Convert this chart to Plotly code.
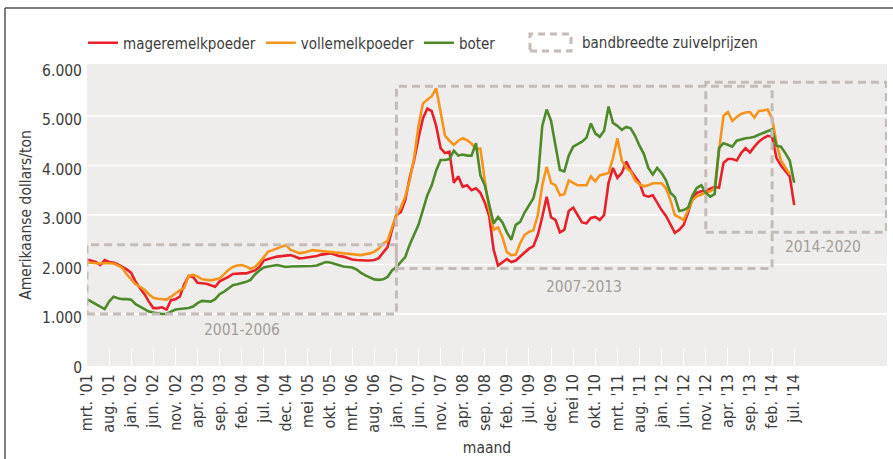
import plotly.graph_objects as go

# ---------------- data ----------------
# month index 0 = maart 2001 ... 160 = juli 2014
SERIES_NAMES = ["mageremelkpoeder", "vollemelkpoeder", "boter"]

MAGEREMELKPOEDER = [
    2100, 2080, 2050, 1990, 2090, 2050, 2040, 2000, 1955, 1900,
    1830, 1650, 1520, 1400, 1250, 1120, 1120, 1135, 1090, 1280,
    1300, 1350, 1600, 1770, 1750, 1630, 1620, 1610, 1580, 1550,
    1660, 1700, 1750, 1810, 1820, 1820, 1820, 1850, 1880, 1950,
    2080, 2110, 2140, 2160, 2170, 2180, 2190, 2160, 2125, 2130,
    2140, 2145, 2170, 2200, 2220, 2225, 2200, 2170, 2160, 2130,
    2100, 2090, 2080, 2080, 2080, 2090, 2130, 2250, 2350, 2700,
    3000, 3060, 3300, 3750, 4100, 4550, 4950, 5150, 5100, 4800,
    4350, 4250, 4280, 3650, 3780, 3570, 3600, 3500, 3540, 3450,
    3250, 2980, 2300, 1980, 2050, 2110, 2050, 2080, 2160, 2250,
    2320, 2370, 2600, 2960, 3370, 2950, 2900, 2650, 2700, 3080,
    3150, 3000, 2850, 2830, 2940, 2960, 2900, 3000, 3650, 3950,
    3750, 3850, 4080, 3900, 3780, 3650, 3400, 3370, 3400, 3250,
    3100, 2980, 2800, 2640, 2700, 2800, 3050, 3350, 3450, 3480,
    3490, 3530, 3570, 3550, 4050, 4130, 4130, 4100, 4250, 4350,
    4260, 4380, 4480, 4550, 4600, 4580, 4150, 4000, 3900, 3780,
    3200,
]

VOLLEMELKPOEDER = [
    2040, 2030, 2020, 2020, 2030, 2030, 2020, 1980, 1930, 1800,
    1700, 1600, 1550, 1490, 1400, 1330, 1310, 1300, 1290, 1350,
    1420, 1480, 1530, 1770, 1790, 1760, 1700, 1690, 1680, 1700,
    1720, 1800, 1890, 1950, 1980, 1990, 1960, 1910, 1950, 2040,
    2150, 2260, 2290, 2320, 2360, 2395, 2300, 2260, 2230, 2240,
    2270, 2290, 2280, 2270, 2260, 2260, 2240, 2230, 2225, 2210,
    2200, 2190, 2190, 2210, 2225, 2260, 2320, 2420, 2480, 2750,
    3000, 3150, 3370, 3700, 4150, 4800, 5250, 5330, 5400, 5560,
    5100, 4600, 4500, 4420, 4500, 4550, 4510, 4440, 4330, 4340,
    3700, 3100, 2700, 2750, 2550, 2250, 2190, 2200, 2430, 2600,
    2660, 2690, 3000, 3600, 3975, 3650, 3600, 3400, 3420, 3700,
    3650, 3600, 3600, 3600, 3780, 3680, 3800, 3820, 3850, 4150,
    4550, 4100, 3950, 3880, 3700, 3620, 3580, 3600, 3640, 3640,
    3640, 3540, 3300, 3000, 2950, 2900, 3100, 3300, 3380, 3420,
    3450, 3480, 3540, 4300, 5000, 5080, 4900, 4980, 5040, 5070,
    5080, 4970, 5100, 5110, 5130, 4950, 4450, 4100, 3950, 3820,
]

BOTER = [
    1300, 1250, 1200, 1150, 1100, 1250, 1350, 1320, 1300, 1300,
    1290, 1200, 1150, 1100, 1050, 1030, 1010, 1000, 1000, 1040,
    1090, 1100, 1110, 1120, 1150, 1220, 1265, 1260, 1250, 1300,
    1400, 1450, 1520, 1580, 1600, 1620, 1650, 1690, 1800, 1880,
    1940, 1960, 1980, 1990, 1970, 1950, 1960, 1960, 1960, 1965,
    1970, 1970, 1980, 2020, 2050, 2040, 2010, 1980, 1960, 1950,
    1940, 1900, 1830, 1780, 1740, 1700, 1690, 1700, 1750, 1880,
    1950, 2050, 2150, 2400, 2600, 2800, 3100, 3400, 3600, 3900,
    4110, 4110, 4130, 4300, 4200, 4220, 4200, 4200, 4450, 3800,
    3600, 3200, 2830, 2960, 2850, 2650, 2500, 2800, 2860, 3050,
    3200, 3340, 3700, 4800, 5130, 4900, 4400, 3910, 3880, 4200,
    4380, 4430, 4480, 4560, 4850, 4650, 4580, 4700, 5190, 4860,
    4800, 4720, 4780, 4750, 4600, 4400, 4230, 3950, 3820, 3950,
    3850, 3700, 3450, 3360, 3080, 3100, 3150, 3400, 3550, 3600,
    3450, 3370, 3420, 4350, 4450, 4420, 4380, 4500, 4530, 4550,
    4560, 4580, 4620, 4660, 4700, 4730, 4400, 4380, 4250, 4100,
    3650,
]

X_TICK_LABELS = [
    "mrt. '01", "aug. '01", "jan. '02", "jun. '02", "nov. '02", "apr. '03",
    "sep. '03", "feb. '04", "jul. '04", "dec. '04", "mei '05", "okt. '05",
    "mrt. '06", "aug. '06", "jan. '07", "jun. '07", "nov. '07", "apr. '08",
    "sep. '08", "feb. '09", "jul. '09", "dec. '09", "mei 10", "okt. '10",
    "mrt. '11", "aug. '11", "jan. '12", "jun. '12", "nov. '12", "apr. '13",
    "sep. '13", "feb. '14", "jul. '14",
]
Y_TICK_VALUES = [0, 1000, 2000, 3000, 4000, 5000, 6000]
Y_TICK_LABELS = ["0", "1.000", "2.000", "3.000", "4.000", "5.000", "6.000"]

# price bands ("bandbreedte zuivelprijzen"), month index + USD/ton
BAND_LABELS = ["2001-2006", "2007-2013", "2014-2020"]
BAND_START = [0, 70, 140]
BAND_END = [70, 155, 181]
BAND_LOW = [1000, 1920, 2650]
BAND_HIGH = [2400, 5600, 5680]

# ---------------- style ----------------
FONT = "Liberation Sans Narrow, Arial Narrow, DejaVu Sans Condensed, sans-serif"
TEXT = "#3c3c3c"
COLORS = ["#e8202a", "#f7941d", "#4e8a2b"]
BAND_COLOR = "#c5bcb7"
BAND_TEXT = "#a59d99"
BG = "#eeedeb"

W, H = 893, 459
ML, MR, MT, MB = 87, 6, 64, 93
PW, PH = W - ML - MR, H - MT - MB


def px_to_paper_x(px):
    return (px - ML) / PW


def px_to_paper_y(py):
    return (H - MB - py) / PH


fig = go.Figure()
for name, vals, col in zip(SERIES_NAMES, [MAGEREMELKPOEDER, VOLLEMELKPOEDER, BOTER], COLORS):
    fig.add_trace(go.Scatter(
        x=list(range(len(vals))), y=vals, name=name, mode="lines",
        line=dict(color=col, width=2.6), hoverinfo="x+y",
    ))

shapes = []
# horizontal grid lines
for v in Y_TICK_VALUES[1:-1]:
    shapes.append(dict(type="line", xref="paper", yref="y", x0=0, x1=1, y0=v, y1=v,
                       line=dict(color="white", width=1.5), layer="below"))
# bands
annotations = []
label_x = [None, None, (BAND_END[1] + BAND_END[2]) / 2 - 1.5]
label_shift = [-16, -19, -15]
for i, lab in enumerate(BAND_LABELS):
    shapes.append(dict(type="rect", xref="x", yref="y",
                       x0=BAND_START[i], x1=BAND_END[i] - (0.15 if i == 2 else 0),
                       y0=BAND_LOW[i], y1=BAND_HIGH[i],
                       line=dict(color=BAND_COLOR, width=3, dash="8px,5px"),
                       fillcolor="rgba(0,0,0,0)", layer="above"))
    lx = label_x[i] if label_x[i] is not None else (BAND_START[i] + BAND_END[i]) / 2
    annotations.append(dict(x=lx, y=BAND_LOW[i], xref="x", yref="y", text=lab,
                            showarrow=False, yanchor="middle", xanchor="center",
                            yshift=label_shift[i],
                            font=dict(family=FONT, size=15.5, color=BAND_TEXT)))

# legend entry for the bands (dashed box symbol + text)
shapes.append(dict(type="rect", xref="paper", yref="paper",
                   x0=px_to_paper_x(530), x1=px_to_paper_x(571),
                   y0=px_to_paper_y(51), y1=px_to_paper_y(34),
                   line=dict(color=BAND_COLOR, width=3, dash="7px,5px"),
                   fillcolor="rgba(0,0,0,0)"))
annotations.append(dict(x=px_to_paper_x(580), y=px_to_paper_y(43), xref="paper", yref="paper",
                        text="bandbreedte zuivelprijzen", showarrow=False,
                        xanchor="left", yanchor="middle",
                        font=dict(family=FONT, size=15, color=TEXT)))

# outer frame (top and left edges visible)
FRAME = dict(color="#555555", width=1.5)
shapes.append(dict(type="line", xref="paper", yref="paper",
                   x0=px_to_paper_x(5), x1=px_to_paper_x(W + 5),
                   y0=px_to_paper_y(8), y1=px_to_paper_y(8), line=FRAME))
shapes.append(dict(type="line", xref="paper", yref="paper",
                   x0=px_to_paper_x(5), x1=px_to_paper_x(5),
                   y0=px_to_paper_y(8), y1=px_to_paper_y(H + 5), line=FRAME))

fig.update_layout(
    width=W, height=H,
    margin=dict(l=ML, r=MR, t=MT, b=MB, autoexpand=False),
    paper_bgcolor="white", plot_bgcolor=BG,
    font=dict(family=FONT, size=15, color=TEXT),
    showlegend=True,
    legend=dict(orientation="h", x=px_to_paper_x(83), y=px_to_paper_y(43),
                xanchor="left", yanchor="middle", bgcolor="rgba(0,0,0,0)",
                font=dict(family=FONT, size=15, color=TEXT), itemwidth=30),
    shapes=shapes, annotations=annotations,
    xaxis=dict(range=[0, 181], showgrid=False, zeroline=False, showline=False,
               automargin=False,
               tickmode="array", tickvals=list(range(0, 161, 5)), ticktext=X_TICK_LABELS,
               tickangle=-90, ticks="inside", ticklen=18, tickcolor="white", tickwidth=1.2,
               ticklabelstandoff=4,
               tickfont=dict(family=FONT, size=16, color=TEXT),
               title=dict(text="maand", font=dict(family=FONT, size=15.5, color=TEXT), standoff=10)),
    yaxis=dict(range=[-50, 6050], showgrid=False, zeroline=False, showline=False,
               automargin=False,
               tickmode="array", tickvals=Y_TICK_VALUES, ticktext=Y_TICK_LABELS,
               ticks="", ticklabelstandoff=4, ticklabelshift=4,
               tickfont=dict(family=FONT, size=15.5, color=TEXT),
               title=dict(text="Amerikaanse dollars/ton",
                          font=dict(family=FONT, size=15.5, color=TEXT), standoff=6)),
)

fig.write_html(
    "out.html",
    config={"displayModeBar": False},
    post_script="document.body.style.margin='0px';document.body.style.overflow='hidden';",
)
